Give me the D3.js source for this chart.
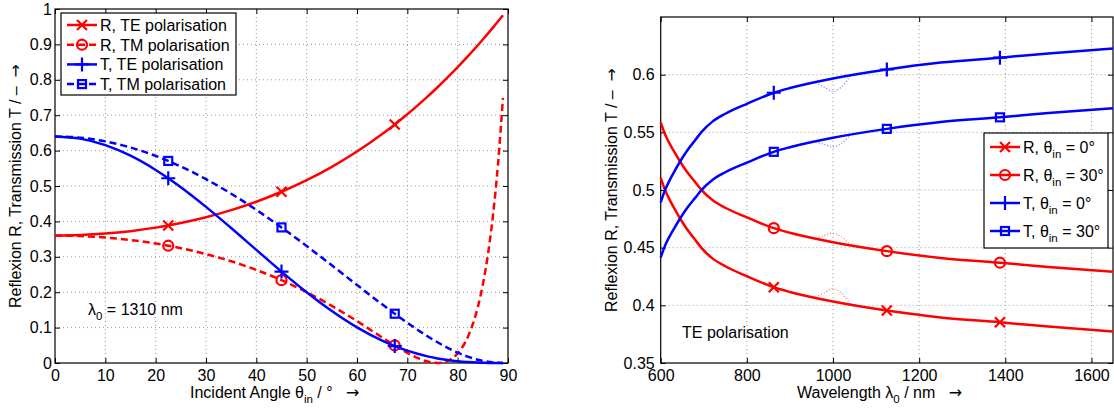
<!DOCTYPE html>
<html>
<head>
<meta charset="utf-8">
<script src="https://cdn.jsdelivr.net/npm/d3@7/dist/d3.min.js"></script>
<style>
  body { margin: 0; background: #fff; }
  svg text { font-family: "Liberation Sans", Arial, sans-serif; fill: #000; }
  .arrow { font-family: "DejaVu Sans", sans-serif; }
</style>
</head>
<body>
<svg id="fig" width="1114" height="409"></svg>
<script>
// ---- left panel: incident angle sweep (lambda0 = 1310 nm)
const angleDeg = [0, 5, 10, 15, 20, 22.5, 25, 30, 35, 40, 45, 50, 55, 60, 65, 67.5, 70, 72, 74, 76, 78, 80, 82, 84, 85, 86, 87, 88, 89];
const refTE   = [0.360, 0.3614, 0.3655, 0.3725, 0.3824, 0.3885, 0.3955, 0.4118, 0.4318, 0.4556, 0.4837, 0.5164, 0.5542, 0.5975, 0.6469, 0.6740, 0.7027, 0.7270, 0.7524, 0.7790, 0.8069, 0.8359, 0.8661, 0.8977, 0.9139, 0.9305, 0.9474, 0.9646, 0.9821];
const refTM   = [0.360, 0.3586, 0.3545, 0.3475, 0.3375, 0.3313, 0.3243, 0.3077, 0.2874, 0.2629, 0.2340, 0.2002, 0.1615, 0.1183, 0.0723, 0.0496, 0.0287, 0.0144, 0.0040, 0.0000, 0.0059, 0.0272, 0.0730, 0.1576, 0.2215, 0.3054, 0.4154, 0.5595, 0.7491];
const transTE = [0.640, 0.6338, 0.6154, 0.5855, 0.5453, 0.5219, 0.4966, 0.4411, 0.3813, 0.3195, 0.2582, 0.1998, 0.1467, 0.1006, 0.0631, 0.0478, 0.0348, 0.0261, 0.0188, 0.0129, 0.0084, 0.0050, 0.0026, 0.0011, 0.0007, 0.0003, 0.0001, 0.0000, 0.0000];
const transTM = [0.640, 0.6365, 0.6261, 0.6088, 0.5850, 0.5708, 0.5550, 0.5192, 0.4782, 0.4326, 0.3830, 0.3305, 0.2759, 0.2204, 0.1657, 0.1392, 0.1136, 0.0941, 0.0757, 0.0585, 0.0430, 0.0293, 0.0180, 0.0092, 0.0059, 0.0034, 0.0016, 0.0005, 0.0001];
const angleMarks = [22.5, 45, 67.5];
const angleTicks = [0, 10, 20, 30, 40, 50, 60, 70, 80, 90];
const leftYTicks = [0, 0.1, 0.2, 0.3, 0.4, 0.5, 0.6, 0.7, 0.8, 0.9, 1];

// ---- right panel: wavelength sweep (TE)
const wavelength = [600, 610, 620, 630, 645, 660, 680, 695, 720, 750, 800, 862.5, 900, 1000, 1125, 1250, 1387.5, 1500, 1650];
const refAt0     = [0.5108, 0.5001, 0.4921, 0.4851, 0.4753, 0.4666, 0.4568, 0.4496, 0.4407, 0.4339, 0.4253, 0.4157, 0.4116, 0.4033, 0.3955, 0.3895, 0.3853, 0.3816, 0.3773];
const refAt30    = [0.5585, 0.5483, 0.5407, 0.5341, 0.5247, 0.5162, 0.5068, 0.4999, 0.4913, 0.4846, 0.4763, 0.4669, 0.4629, 0.4547, 0.4470, 0.4411, 0.4370, 0.4333, 0.4291];
const transAt0   = [0.4892, 0.4999, 0.5079, 0.5149, 0.5247, 0.5334, 0.5432, 0.5504, 0.5593, 0.5661, 0.5747, 0.5843, 0.5884, 0.5967, 0.6045, 0.6105, 0.6147, 0.6184, 0.6227];
const transAt30  = [0.4415, 0.4517, 0.4593, 0.4659, 0.4753, 0.4838, 0.4932, 0.5001, 0.5087, 0.5154, 0.5237, 0.5331, 0.5371, 0.5453, 0.5530, 0.5589, 0.5630, 0.5667, 0.5709];
const waveMarks  = [862.5, 1125, 1387.5];
const waveTicks  = [600, 800, 1000, 1200, 1400, 1600];
const rightYTicks = [0.35, 0.4, 0.45, 0.5, 0.55, 0.6];

// faint dotted traces that bulge away from the curves around 1000 nm
const faintLambda = [960, 980, 1000, 1020, 1040];
const faintR0  = [0.4070, 0.4110, 0.4145, 0.4105, 0.4010];
const faintR30 = [0.4582, 0.4605, 0.4625, 0.4595, 0.4523];
const faintT0  = [0.5930, 0.5890, 0.5855, 0.5895, 0.5990];
const faintT30 = [0.5418, 0.5395, 0.5375, 0.5405, 0.5477];

const RED = '#ff0000', BLUE = '#0000ff';
const svg = d3.select('#fig');

// marker glyphs, drawn centred on 0,0
function addMarker(sel, type, color) {
    if (type === 'x') {
        sel.append('path').attr('d', 'M-5,-5L5,5M-5,5L5,-5');
    } else if (type === '+') {
        sel.append('path').attr('d', 'M-7,0H7M0,-7V7');
    } else if (type === 'o') {
        sel.append('circle').attr('r', 5);
    } else if (type === 's') {
        sel.append('rect').attr('x', -4).attr('y', -4).attr('width', 8).attr('height', 8);
    }
    sel.selectAll('path,circle,rect')
        .attr('fill', 'none')
        .attr('stroke', color)
        .attr('stroke-width', 2.2);
}

function makePanel(cfg) {
    const x = d3.scaleLinear().domain(cfg.xDomain).range([cfg.left, cfg.right]);
    const y = d3.scaleLinear().domain(cfg.yDomain).range([cfg.bottom, cfg.top]);
    const g = svg.append('g');

    // dotted grid
    const gx = cfg.xTicks.filter(t => t > cfg.xDomain[0] && t < cfg.xDomain[1]);
    const gy = cfg.yTicks.filter(t => t > cfg.yDomain[0] && t < cfg.yDomain[1]);
    g.append('g').selectAll('line').data(gx).join('line')
        .attr('x1', d => x(d)).attr('x2', d => x(d))
        .attr('y1', cfg.top).attr('y2', cfg.bottom);
    g.append('g').selectAll('line').data(gy).join('line')
        .attr('x1', cfg.left).attr('x2', cfg.right)
        .attr('y1', d => y(d)).attr('y2', d => y(d));
    g.selectAll('line')
        .attr('stroke', '#8c8c8c')
        .attr('stroke-width', 0.9)
        .attr('stroke-dasharray', '1,3');

    // axes, ticks pointing inward on all four sides
    const fmt = d => String(d);
    const axes = [
        [d3.axisBottom(x).tickValues(cfg.xTicks).tickFormat(fmt).tickPadding(7), `translate(0,${cfg.bottom})`],
        [d3.axisTop(x).tickValues(cfg.xTicks).tickFormat(''), `translate(0,${cfg.top})`],
        [d3.axisLeft(y).tickValues(cfg.yTicks).tickFormat(fmt).tickPadding(cfg.yPad), `translate(${cfg.left},0)`],
        [d3.axisRight(y).tickValues(cfg.yTicks).tickFormat(''), `translate(${cfg.right},0)`]
    ];
    axes.forEach(([ax, tr]) => {
        const a = g.append('g').attr('transform', tr)
            .call(ax.tickSizeInner(-5).tickSizeOuter(0));
        a.select('.domain').remove();
        a.selectAll('.tick line').attr('stroke', '#000');
        a.selectAll('text').attr('font-size', 16)
            .attr('font-family', '"Liberation Sans", Arial, sans-serif');
    });

    g.append('rect')
        .attr('x', cfg.left).attr('y', cfg.top)
        .attr('width', cfg.right - cfg.left).attr('height', cfg.bottom - cfg.top)
        .attr('fill', 'none').attr('stroke', '#000').attr('stroke-width', 1.2);

    const plot = g.append('g');
    const line = d3.line().x(d => x(d[0])).y(d => y(d[1])).curve(d3.curveMonotoneX);

    (cfg.faint || []).forEach(f => {
        plot.append('path')
            .datum(f.xs.map((v, i) => [v, f.ys[i]]))
            .attr('fill', 'none')
            .attr('stroke', f.color)
            .attr('stroke-width', 1.4)
            .attr('stroke-dasharray', '1,2')
            .attr('d', d3.line().x(d => x(d[0])).y(d => y(d[1])).curve(d3.curveCatmullRom));
    });

    cfg.series.forEach(s => {
        const pts = cfg.xs.map((v, i) => [v, s.ys[i]]);
        plot.append('path')
            .datum(pts)
            .attr('fill', 'none')
            .attr('stroke', s.color)
            .attr('stroke-width', 2.5)
            .attr('stroke-dasharray', s.dash || null)
            .attr('d', line);
        cfg.marks.forEach(m => {
            const i = cfg.xs.indexOf(m);
            const mk = plot.append('g').attr('transform', `translate(${x(m)},${y(s.ys[i])})`);
            addMarker(mk, s.marker, s.color);
        });
    });

    // y label
    const yl = g.append('text')
        .attr('transform', `translate(${cfg.yLabelX},${(cfg.top + cfg.bottom) / 2}) rotate(-90)`)
        .attr('text-anchor', 'middle')
        .attr('font-size', 16)
        .style('white-space', 'pre');
    yl.append('tspan').text('Reflexion R, Transmission T / \u2013  ');
    yl.append('tspan').attr('class', 'arrow').text('\u2192');

    return { x, y, g };
}

// text with subscript parts: [[text, isSub, cls], ...]
function richText(sel, parts, size) {
    let shift = 0;
    parts.forEach(([t, sub, cls]) => {
        const ts = sel.append('tspan').text(t);
        if (cls) ts.attr('class', cls);
        if (sub) {
            ts.attr('font-size', size * 0.72).attr('dy', 5 - shift);
            shift = 5;
        } else {
            ts.attr('dy', -shift);
            shift = 0;
        }
    });
}

function legend(cfg) {
    const g = svg.append('g');
    g.append('rect')
        .attr('x', cfg.x).attr('y', cfg.y)
        .attr('width', cfg.w).attr('height', cfg.h)
        .attr('fill', '#fff').attr('stroke', '#000').attr('stroke-width', 1.2);
    cfg.items.forEach((it, i) => {
        const cy = cfg.y + cfg.first + i * cfg.step;
        g.append('line')
            .attr('x1', cfg.x + 6).attr('x2', cfg.x + 36)
            .attr('y1', cy).attr('y2', cy)
            .attr('stroke', it.color).attr('stroke-width', 2.5)
            .attr('stroke-dasharray', it.dash || null);
        addMarker(g.append('g').attr('transform', `translate(${cfg.x + 21},${cy})`), it.marker, it.color);
        const t = g.append('text')
            .attr('x', cfg.x + 39).attr('y', cy + 6)
            .attr('font-size', 16);
        richText(t, it.label, 16);
    });
}

// ---- left panel
makePanel({
    left: 55, right: 508, top: 9, bottom: 363,
    xDomain: [0, 90], yDomain: [0, 1],
    xTicks: angleTicks, yTicks: leftYTicks, yPad: 3, yLabelX: 21,
    xs: angleDeg, marks: angleMarks,
    series: [
        { ys: refTE, color: RED, marker: 'x' },
        { ys: refTM, color: RED, marker: 'o', dash: '7,4' },
        { ys: transTE, color: BLUE, marker: '+' },
        { ys: transTM, color: BLUE, marker: 's', dash: '7,4' }
    ]
});

legend({
    x: 61, y: 13, w: 175, h: 82, first: 12, step: 19.7,
    items: [
        { color: RED, marker: 'x', label: [['R, TE polarisation']] },
        { color: RED, marker: 'o', dash: '7,4', label: [['R, TM polarisation']] },
        { color: BLUE, marker: '+', label: [['T, TE polarisation']] },
        { color: BLUE, marker: 's', dash: '7,4', label: [['T, TM polarisation']] }
    ]
});

const lam = svg.append('text').attr('x', 88).attr('y', 315).attr('font-size', 16);
richText(lam, [['\u03bb'], ['0', true], [' = 1310 nm']], 16);

const xl1 = svg.append('text').attr('x', 190).attr('y', 398).attr('font-size', 16).style('white-space', 'pre');
richText(xl1, [['Incident Angle \u03b8'], ['in', true], [' / \u00b0   '], ['\u2192', false, 'arrow']], 16);

// ---- right panel
makePanel({
    left: 660.7, right: 1113, top: 17, bottom: 363,
    xDomain: [600, 1650], yDomain: [0.35, 0.65],
    xTicks: waveTicks, yTicks: rightYTicks, yPad: 6, yLabelX: 617,
    xs: wavelength, marks: waveMarks,
    faint: [
        { xs: faintLambda, ys: faintR0, color: '#ff8080' },
        { xs: faintLambda, ys: faintR30, color: '#ff8080' },
        { xs: faintLambda, ys: faintT0, color: '#8080ff' },
        { xs: faintLambda, ys: faintT30, color: '#8080ff' }
    ],
    series: [
        { ys: refAt0, color: RED, marker: 'x' },
        { ys: refAt30, color: RED, marker: 'o' },
        { ys: transAt0, color: BLUE, marker: '+' },
        { ys: transAt30, color: BLUE, marker: 's' }
    ]
});

legend({
    x: 984, y: 133, w: 124, h: 115, first: 14, step: 28,
    items: [
        { color: RED, marker: 'x', label: [['R, \u03b8'], ['in', true], [' = 0\u00b0']] },
        { color: RED, marker: 'o', label: [['R, \u03b8'], ['in', true], [' = 30\u00b0']] },
        { color: BLUE, marker: '+', label: [['T, \u03b8'], ['in', true], [' = 0\u00b0']] },
        { color: BLUE, marker: 's', label: [['T, \u03b8'], ['in', true], [' = 30\u00b0']] }
    ]
});

svg.append('text').attr('x', 682).attr('y', 338).attr('font-size', 16).text('TE polarisation');

const xl2 = svg.append('text').attr('x', 797).attr('y', 398).attr('font-size', 16).style('white-space', 'pre');
richText(xl2, [['Wavelength \u03bb'], ['0', true], [' / nm   '], ['\u2192', false, 'arrow']], 16);
</script>
</body>
</html>
